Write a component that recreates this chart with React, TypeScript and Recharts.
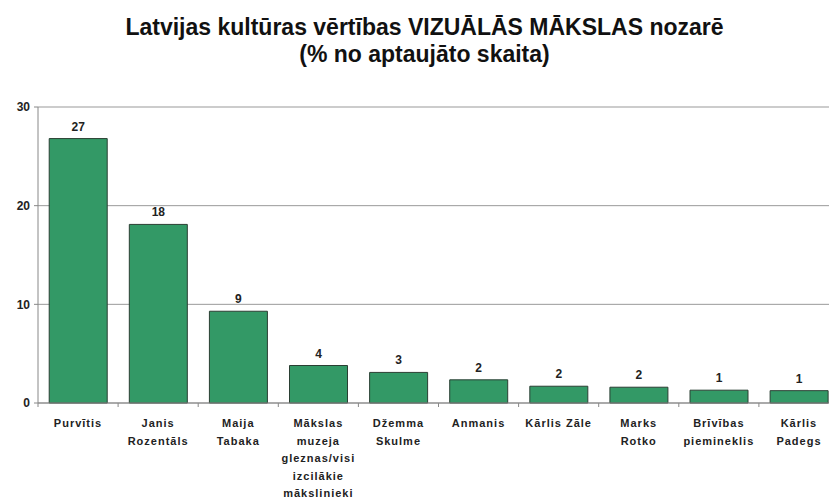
import React from "react";
import { BarChart, Bar, XAxis, YAxis, CartesianGrid, LabelList } from "recharts";

const categories = [
  "Purvītis",
  "Janis Rozentāls",
  "Maija Tabaka",
  "Mākslas muzeja gleznas/visi izcilākie mākslinieki",
  "Džemma Skulme",
  "Anmanis",
  "Kārlis Zāle",
  "Marks Rotko",
  "Brīvības piemineklis",
  "Kārlis Padegs",
];

const tickLabelLines = [
  ["Purvītis"],
  ["Janis", "Rozentāls"],
  ["Maija", "Tabaka"],
  ["Mākslas", "muzeja", "gleznas/visi", "izcilākie", "mākslinieki"],
  ["Džemma", "Skulme"],
  ["Anmanis"],
  ["Kārlis Zāle"],
  ["Marks", "Rotko"],
  ["Brīvības", "piemineklis"],
  ["Kārlis", "Padegs"],
];

const values = [26.8, 18.1, 9.3, 3.8, 3.1, 2.35, 1.7, 1.6, 1.3, 1.25];

const yTicks = [0, 10, 20, 30];

const titleLine1 = "Latvijas kultūras vērtības VIZUĀLĀS MĀKSLAS nozarē";
const titleLine2 = "(% no aptaujāto skaita)";

const data = categories.map((c, i) => ({ name: c, value: values[i], idx: i }));

const FONT = "'Liberation Sans', Arial, sans-serif";

function XTick(props: any) {
  const { x, y, payload, index } = props;
  const half = payload && payload.offset ? payload.offset : 40;
  const lines = tickLabelLines[index] || [String(payload.value)];
  const isLast = index === categories.length - 1;
  return (
    <g>
      <line x1={x - half} x2={x - half} y1={y} y2={y + 4} stroke="#888" />
      {isLast && <line x1={x + half} x2={x + half} y1={y} y2={y + 4} stroke="#888" />}
      <text
        x={x}
        y={y}
        textAnchor="middle"
        fontFamily={FONT}
        fontWeight="bold"
        fontSize={11}
        fill="#222"
        letterSpacing={1}
      >
        {lines.map((l: string, i: number) => (
          <tspan key={i} x={x} y={y + 24 + i * 17.5}>
            {l}
          </tspan>
        ))}
      </text>
    </g>
  );
}

export default function App() {
  return (
    <div
      style={{
        position: "absolute",
        left: 0,
        top: 0,
        width: 829,
        height: 500,
        overflow: "hidden",
        background: "#fff",
      }}
    >
      <div
        style={{
          position: "absolute",
          left: 0,
          top: 14,
          width: 849,
          textAlign: "center",
          fontFamily: FONT,
          fontWeight: "bold",
          fontSize: 23,
          lineHeight: "27px",
          color: "#111",
          whiteSpace: "nowrap",
        }}
      >
        <div>{titleLine1}</div>
        <div>{titleLine2}</div>
      </div>
      <div style={{ position: "absolute", left: 0, top: 0 }}>
        <BarChart
          width={839}
          height={500}
          data={data}
          margin={{ top: 107, right: 0, bottom: 0, left: 0 }}
          barCategoryGap="14%"
        >
          <CartesianGrid vertical={false} stroke="#999" />
          <XAxis
            dataKey="name"
            interval={0}
            tickLine={false}
            tickSize={0}
            tickMargin={0}
            height={97}
            axisLine={{ stroke: "#888" }}
            tick={<XTick />}
          />
          <YAxis
            domain={[0, 30]}
            ticks={yTicks}
            width={38}
            tickSize={4}
            tickMargin={4}
            axisLine={{ stroke: "#888" }}
            tickLine={{ stroke: "#888" }}
            tick={{ fontFamily: FONT, fontWeight: "bold", fontSize: 12, fill: "#222" }}
          />
          <Bar
            dataKey="value"
            fill="#339966"
            stroke="#2a3f33"
            strokeWidth={1}
            isAnimationActive={false}
          >
            <LabelList
              dataKey="value"
              position="top"
              offset={8}
              formatter={(v: any) => Math.round(Number(v))}
              style={{ fontFamily: FONT, fontWeight: "bold", fontSize: 12, fill: "#222" }}
            />
          </Bar>
        </BarChart>
      </div>
    </div>
  );
}
